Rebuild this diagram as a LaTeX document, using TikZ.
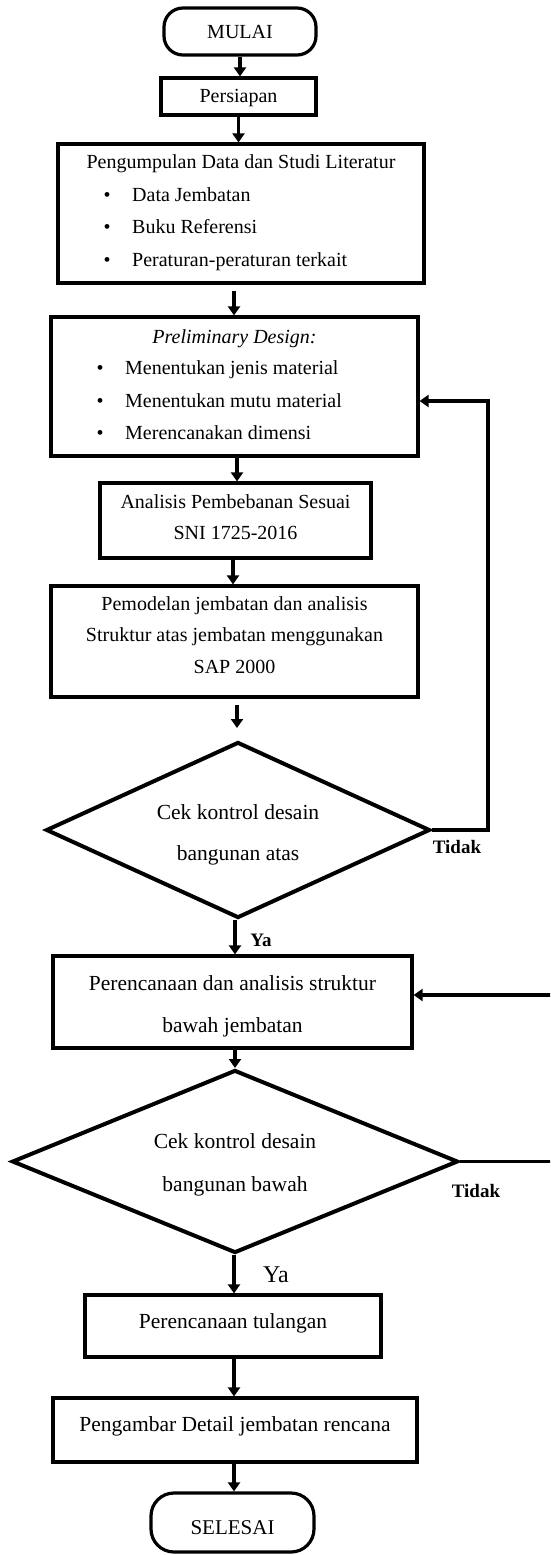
\documentclass[tikz,border=0pt]{standalone}
\usepackage{fontspec}
\setmainfont{Liberation Serif}
\usetikzlibrary{arrows.meta,shapes.geometric,calc}
\begin{document}
\begin{tikzpicture}[x=1pt,y=-1pt,
  box/.style={draw, line width=3.2pt, inner sep=0pt},
  term/.style={draw, line width=3.2pt, inner sep=0pt},
  dec/.style={diamond, draw, line width=4pt, inner sep=0pt},
  txt/.style={anchor=base, inner sep=0pt, font=\fontsize{20}{24}\selectfont},
  txtl/.style={anchor=base west, inner sep=0pt, font=\fontsize{20}{24}\selectfont},
  txtb/.style={anchor=base, inner sep=0pt, font=\fontsize{21.5}{25}\selectfont},
  lbl/.style={anchor=base, inner sep=0pt, font=\fontsize{19}{22}\selectfont\bfseries},
  arr/.style={line width=3.3pt, -{Triangle[length=9pt,width=12pt]}},
  line/.style={line width=3pt}
]
\clip (0,0) rectangle (550,1555);
\fill[white] (0,0) rectangle (550,1555);

% shapes
\node[term, rounded corners=19pt, minimum width=152pt, minimum height=47pt] (mulai) at (240,31.5) {};
\node[box, minimum width=155pt, minimum height=37pt] (persiapan) at (238.5,96.5) {};
\node[box, minimum width=366pt, minimum height=139pt] (lit) at (241,213.5) {};
\node[box, minimum width=367pt, minimum height=139pt] (prelim) at (234.5,386.5) {};
\node[box, minimum width=271pt, minimum height=75pt] (analisis) at (235.5,520.5) {};
\node[box, minimum width=367pt, minimum height=111pt] (model) at (234.5,641.5) {};
\node[dec, minimum width=384pt, minimum height=176pt] (d1) at (238,830) {};
\node[box, minimum width=359pt, minimum height=92pt] (bawah) at (232.5,1002) {};
\node[dec, minimum width=446pt, minimum height=183pt] (d2) at (235,1161.5) {};
\node[box, minimum width=296pt, minimum height=62pt] (tulangan) at (233,1326) {};
\node[box, minimum width=364pt, minimum height=64pt] (detail) at (235,1430) {};
\node[term, rounded corners=23pt, minimum width=163pt, minimum height=59pt] (selesai) at (232.5,1522.5) {};

% texts
\node[txt] (tmulai) at (240,39) {MULAI};
\node[txt] (tpers) at (238.5,102) {Persiapan};
\node[txt] (tlit) at (241,168) {Pengumpulan Data dan Studi Literatur};
\node[txt] (lb1) at (107,201) {\textbullet};
\node[txtl] (li1) at (132,201) {Data Jembatan};
\node[txt] (lb2) at (107,233) {\textbullet};
\node[txtl] (li2) at (132,233) {Buku Referensi};
\node[txt] (lb3) at (107,266) {\textbullet};
\node[txtl] (li3) at (132,266) {Peraturan-peraturan terkait};
\node[txt] (tpre) at (234.5,343) {\itshape Preliminary Design:};
\node[txt] (pb1) at (100,374) {\textbullet};
\node[txtl] (pi1) at (125,374) {Menentukan jenis material};
\node[txt] (pb2) at (100,407) {\textbullet};
\node[txtl] (pi2) at (125,407) {Menentukan mutu material};
\node[txt] (pb3) at (100,439) {\textbullet};
\node[txtl] (pi3) at (125,439) {Merencanakan dimensi};
\node[txt] (ta1) at (235.5,508) {Analisis Pembebanan Sesuai};
\node[txt] (ta2) at (235.5,539.5) {SNI 1725-2016};
\node[txt] (tm1) at (234.5,610) {Pemodelan jembatan dan analisis};
\node[txt] (tm2) at (234.5,641) {Struktur atas jembatan menggunakan};
\node[txt] (tm3) at (234.5,673) {SAP 2000};
\node[txtb] (td11) at (238,819) {Cek kontrol desain};
\node[txtb] (td12) at (238,860) {bangunan atas};
\node[lbl] (ya1) at (261,946) {Ya};
\node[lbl] (tidak1) at (457,853) {Tidak};
\node[txtb] (tb1) at (232.5,990) {Perencanaan dan analisis struktur};
\node[txtb] (tb2) at (232.5,1032) {bawah jembatan};
\node[txtb] (td21) at (235,1148) {Cek kontrol desain};
\node[txtb] (td22) at (235,1191) {bangunan bawah};
\node[lbl] (tidak2) at (476,1197) {Tidak};
\node[anchor=base, inner sep=0pt, font=\fontsize{24}{28}\selectfont] (ya2) at (276,1282) {Ya};
\node[txtb] (ttul) at (233,1328) {Perencanaan tulangan};
\node[txtb] (tdet) at (235,1431) {Pengambar Detail jembatan rencana};
\node[anchor=base, inner sep=0pt, font=\fontsize{21}{25}\selectfont] (tsel) at (232.5,1534) {SELESAI};

% connectors
\draw[arr] (mulai.south) -- (mulai.south |- persiapan.north);
\draw[arr] (persiapan.south) -- (persiapan.south |- lit.north);
\draw[arr, shorten <=6pt] ([xshift=-7pt]lit.south) -- ([xshift=-7pt]lit.south |- prelim.north);
\draw[arr] ([xshift=2.5pt]prelim.south) -- ([xshift=2.5pt]prelim.south |- analisis.north);
\draw[arr] ([xshift=-2.5pt]analisis.south) -- ([xshift=-2.5pt]analisis.south |- model.north);
\draw[arr, shorten <=6pt, shorten >=12pt] ([xshift=2.5pt]model.south) -- ([xshift=2.5pt]model.south |- d1.north);
\draw[arr] ([xshift=-3pt]d1.south) -- ([xshift=-3pt]d1.south |- bawah.north);
\draw[arr] ([xshift=2.5pt]bawah.south) -- ([xshift=2.5pt]bawah.south |- d2.north);
\draw[arr] ([xshift=-1pt]d2.south) -- ([xshift=-1pt]d2.south |- tulangan.north);
\draw[arr] ([xshift=1pt]tulangan.south) -- ([xshift=1pt]tulangan.south |- detail.north);
\draw[arr] ([xshift=-1pt]detail.south) -- ([xshift=-1pt]detail.south |- selesai.north);

\coordinate (fb1) at (488,401);
\draw[arr] (d1.east) -| (fb1) -- (prelim.east |- fb1);
\coordinate (fb2) at (565,995);
\draw[arr] (d2.east) -| (fb2) -- (bawah.east |- fb2);
\end{tikzpicture}
\end{document}
